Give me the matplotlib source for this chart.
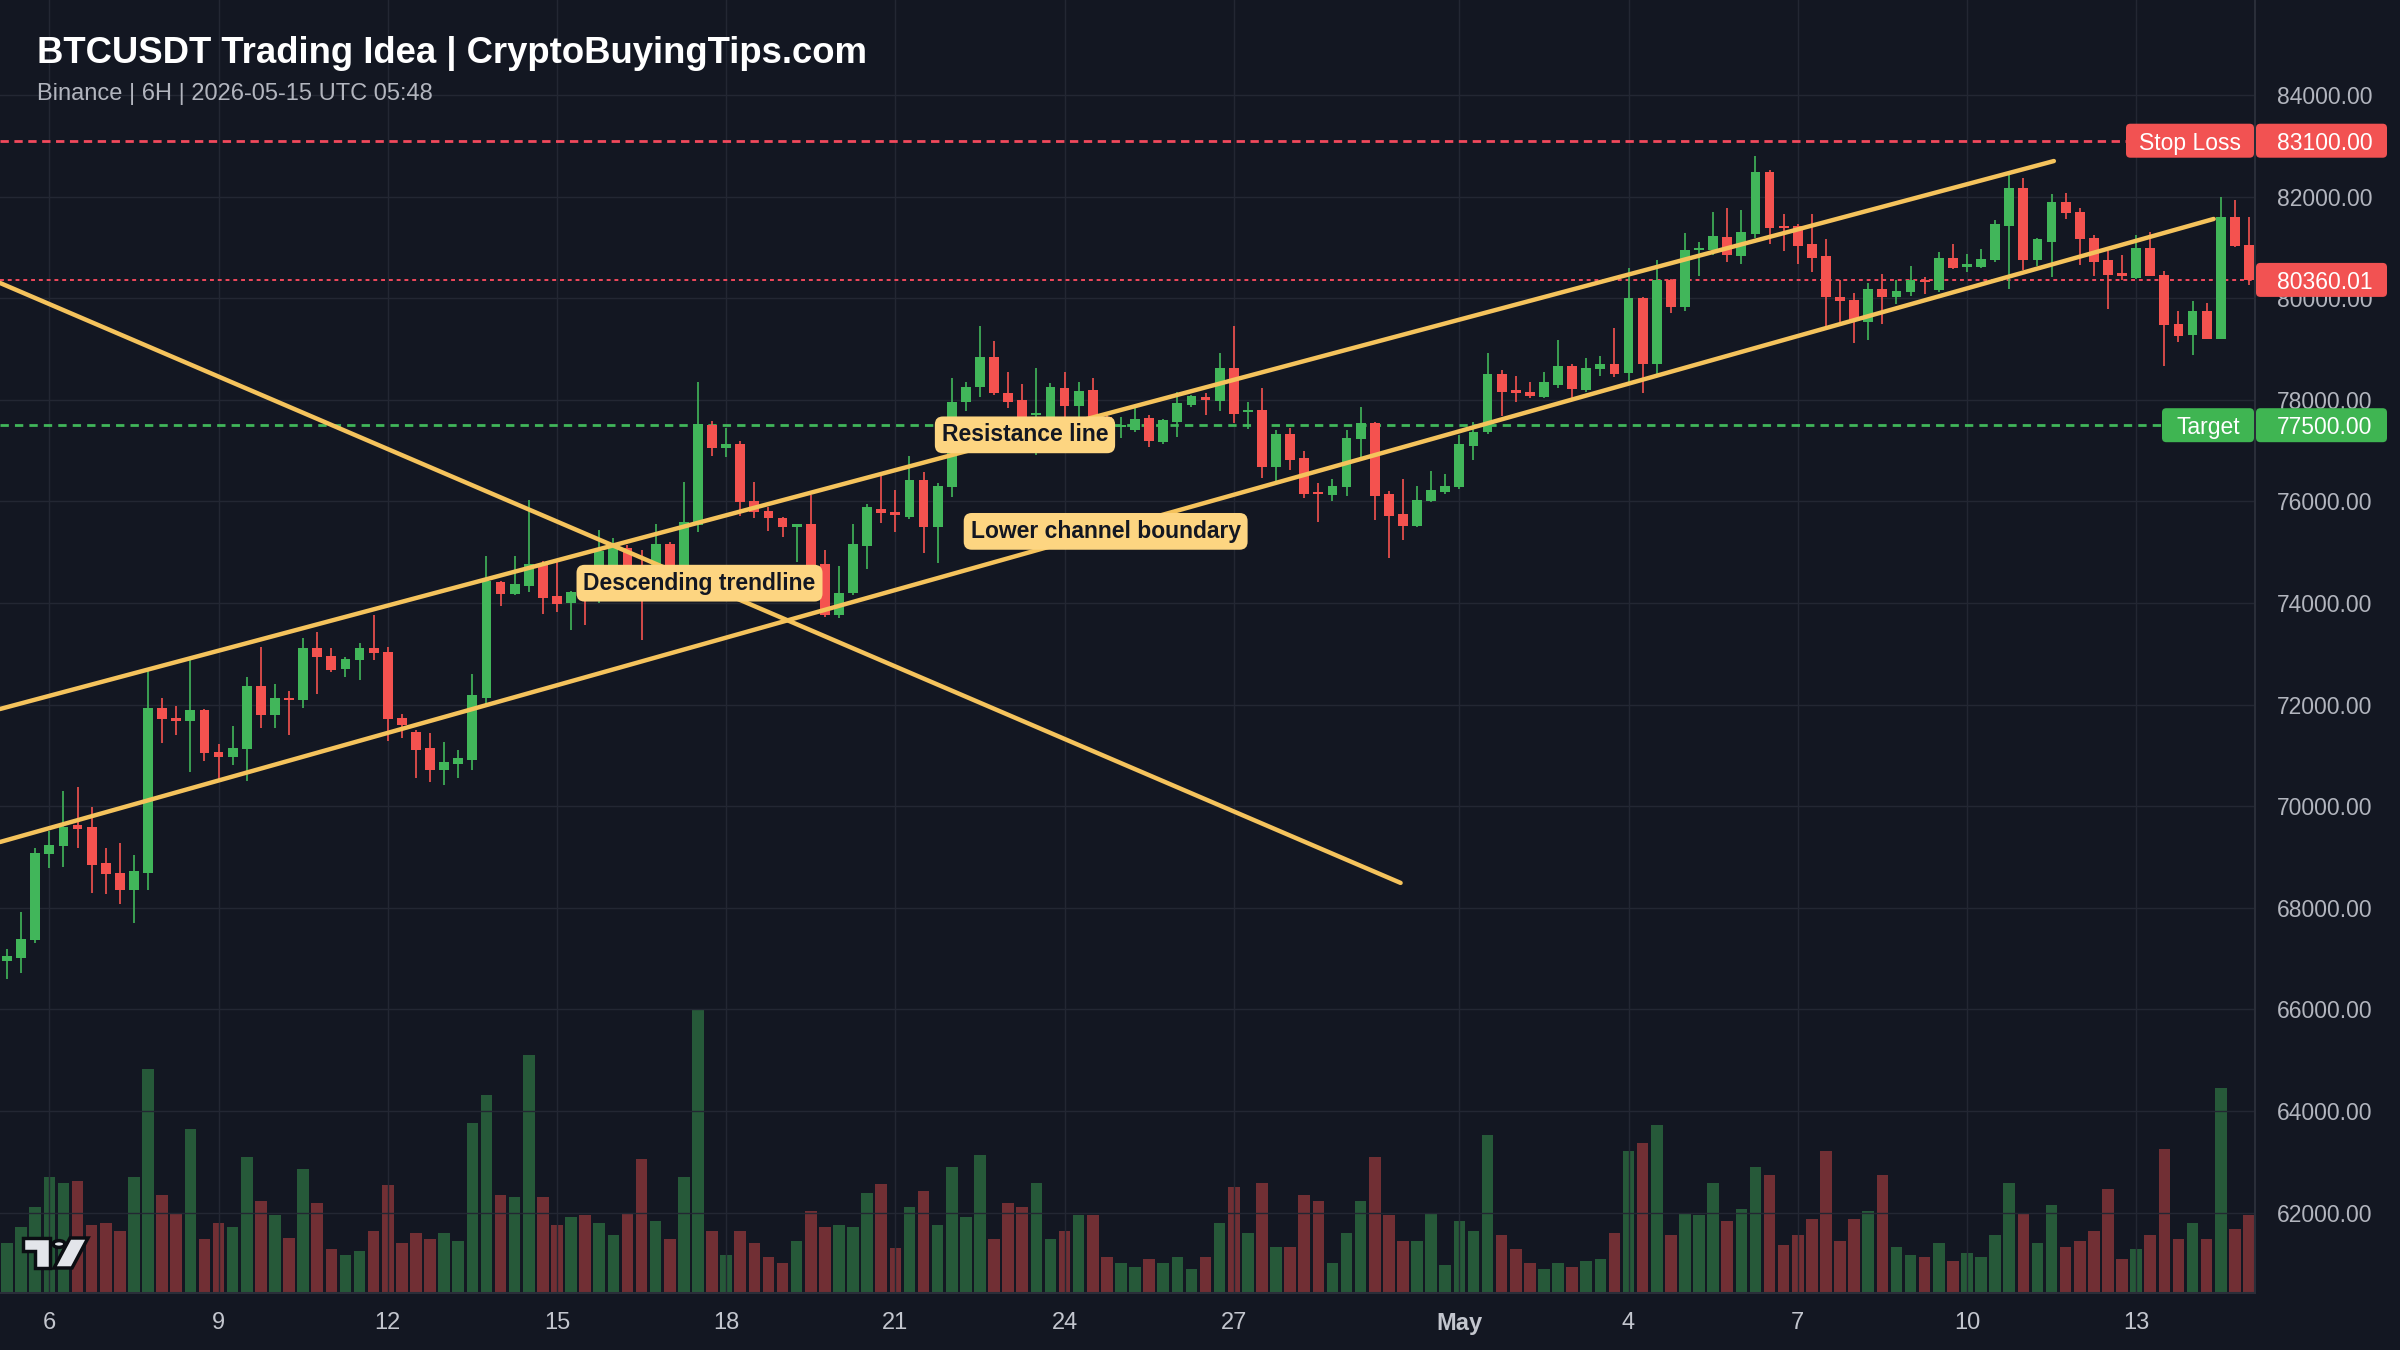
import matplotlib
matplotlib.use("Agg")
import matplotlib.pyplot as plt
import matplotlib.dates as mdates
from matplotlib.patches import FancyBboxPatch, Polygon, Circle
import pandas as pd

plt.rcParams['font.family'] = ['Liberation Sans', 'DejaVu Sans']

# ---- data: BTCUSDT 6H candles, 2026-04-05 06:00 .. 2026-05-15 00:00 UTC ----
times = pd.date_range("2026-04-05 06:00", "2026-05-15 00:00", freq="6h")

opens = [66950, 67020, 67360, 69060, 69210, 69630, 69590, 68890, 68690, 68350,
         68690, 71940, 71740, 71670, 71890, 71070, 70970, 71120, 72360, 71790,
         72130, 72100, 73110, 72950, 72700, 72880, 73110, 73030, 71740, 71470,
         71150, 70720, 70830, 70900, 72130, 74410, 74180, 74330, 74750, 74140,
         74000, 74600, 74300, 74750, 75080, 74700, 74450, 75160, 74650, 75540,
         77510, 77060, 77130, 76010, 75820, 75670, 75500, 75560, 74760, 73760,
         74190, 75120, 75860, 75790, 75700, 76420, 75490, 76280, 77950, 78250,
         78850, 78140, 78000, 77700, 77670, 78230, 77880, 78190, 77670, 77470,
         77410, 77650, 77160, 77570, 77900, 78060, 77980, 78620, 77750, 77800,
         76670, 77330, 76850, 76180, 76130, 76280, 77220, 77550, 76150, 75750,
         75520, 76000, 76190, 76280, 77090, 77370, 78510, 78190, 78160, 78060,
         78290, 78670, 78190, 78600, 78700, 78520, 80000, 78700, 80360, 79820,
         80950, 80950, 81210, 80830, 81260, 82490, 81420, 81420, 81070, 80830,
         80030, 79960, 79540, 80190, 80020, 80130, 80360, 80160, 80800, 80610,
         80620, 80750, 81420, 82160, 80750, 81110, 81900, 81700, 81190, 80750,
         80490, 80390, 80980, 80460, 79490, 79280, 79750, 79190, 81600, 81050]

highs = [67190, 67910, 69170, 69520, 70290, 70370, 69980, 69170, 69280, 69040,
         72670, 72130, 71970, 72870, 71920, 71230, 71580, 72550, 73140, 72400,
         72270, 73320, 73430, 73110, 72930, 73210, 73770, 73140, 71810, 71500,
         71450, 71260, 71100, 72600, 74930, 74440, 74930, 76030, 74820, 74800,
         74240, 74720, 75440, 75280, 75150, 75040, 75550, 75200, 76380, 78350,
         77590, 77440, 77190, 76380, 75880, 75700, 75560, 76130, 75040, 74730,
         75560, 75950, 76490, 76230, 76890, 76570, 76360, 78420, 78360, 79450,
         79150, 78550, 78310, 78620, 78330, 78550, 78360, 78420, 77720, 77670,
         77830, 77700, 77620, 78160, 78100, 78140, 78930, 79450, 77960, 78230,
         77410, 77440, 77000, 76370, 76450, 77410, 77850, 77560, 76210, 76450,
         76300, 76600, 76540, 77300, 77570, 78920, 78590, 78470, 78360, 78550,
         79180, 78700, 78820, 78860, 79410, 80590, 80020, 80750, 80370, 81290,
         81110, 81700, 81770, 81740, 82800, 82520, 81660, 81470, 81660, 81160,
         80360, 80110, 80290, 80480, 80360, 80630, 80420, 80900, 81070, 80870,
         80960, 81540, 82430, 82360, 81180, 82050, 82080, 81770, 81240, 80920,
         80850, 81240, 81310, 80540, 79750, 79950, 79910, 82000, 81930, 81600]

lows = [66590, 66710, 67310, 68780, 68810, 69170, 68300, 68270, 68080, 67710,
        68350, 71240, 71400, 70680, 70890, 70530, 70820, 70490, 71540, 71540,
        71400, 71940, 72200, 72650, 72550, 72490, 72880, 71280, 71350, 70550,
        70480, 70420, 70550, 70710, 72020, 73950, 74150, 74220, 73780, 73820,
        73460, 73560, 74000, 74600, 74300, 73280, 74060, 74400, 74500, 75400,
        76900, 76870, 75720, 75680, 75410, 75290, 74810, 74720, 73730, 73700,
        74150, 74660, 75580, 75400, 75650, 74980, 74780, 76080, 77770, 78050,
        78100, 77830, 77600, 76910, 77640, 77670, 77660, 77640, 77100, 77250,
        77370, 77080, 77130, 77260, 77850, 77700, 77770, 77540, 77420, 76470,
        76390, 76620, 76060, 75600, 76000, 76110, 76870, 75630, 74880, 75240,
        75500, 75990, 76150, 76250, 76820, 77330, 77680, 77960, 78030, 78030,
        78230, 78030, 78160, 78470, 78440, 78360, 78130, 78490, 79700, 79740,
        80440, 80850, 80720, 80670, 81180, 81070, 80920, 80670, 80520, 79450,
        79520, 79110, 79180, 79500, 79890, 80040, 80080, 80120, 80570, 80520,
        80600, 80720, 80190, 80560, 80630, 80410, 81550, 80650, 80440, 79780,
        80360, 80370, 80440, 78670, 79140, 78880, 79190, 79190, 81000, 80260]

closes = [67050, 67390, 69080, 69230, 69590, 69560, 68850, 68660, 68350, 68730,
          71940, 71710, 71670, 71890, 71040, 70970, 71150, 72360, 71790, 72130,
          72090, 73110, 72930, 72680, 72900, 73110, 73020, 71710, 71590, 71110,
          70710, 70870, 70940, 72180, 74430, 74180, 74370, 74770, 74100, 73980,
          74220, 74250, 75020, 75080, 74600, 74300, 75160, 74600, 75590, 77520,
          77060, 77130, 75990, 75800, 75680, 75500, 75550, 74730, 73760, 74200,
          75160, 75880, 75770, 75730, 76420, 75490, 76300, 77950, 78260, 78850,
          78130, 77960, 77640, 77730, 78250, 77880, 78180, 77670, 77350, 77500,
          77620, 77180, 77600, 77940, 78080, 78000, 78620, 77730, 77770, 76680,
          77330, 76820, 76150, 76140, 76300, 77240, 77550, 76110, 75710, 75520,
          76030, 76220, 76300, 77130, 77370, 78510, 78160, 78140, 78080, 78360,
          78670, 78210, 78620, 78700, 78510, 80000, 78700, 80360, 79820, 80950,
          80980, 81220, 80850, 81310, 82480, 81380, 81380, 81030, 80790, 80020,
          79950, 79570, 80190, 80020, 80150, 80350, 80310, 80800, 80590, 80670,
          80780, 81460, 82160, 80750, 81160, 81900, 81670, 81160, 80720, 80460,
          80440, 80980, 80440, 79470, 79260, 79750, 79200, 81600, 81030, 80360.01]

volume = [1500, 1980, 2580, 3480, 3300, 3360, 2040, 2100, 1860, 3480,
          6720, 2940, 2400, 4920, 1620, 2100, 1980, 4080, 2760, 2340,
          1650, 3720, 2700, 1320, 1140, 1260, 1860, 3240, 1500, 1800,
          1620, 1800, 1560, 5100, 5940, 2940, 2880, 7140, 2880, 2040,
          2280, 2340, 2100, 1740, 2400, 4020, 2160, 1620, 3480, 8520,
          1860, 1140, 1860, 1500, 1080, 900, 1560, 2460, 1980, 2040,
          1980, 3000, 3270, 1350, 2580, 3060, 2040, 3780, 2280, 4140,
          1620, 2700, 2580, 3300, 1620, 1860, 2340, 2340, 1080, 900,
          780, 1020, 900, 1080, 720, 1080, 2100, 3180, 1800, 3300,
          1380, 1380, 2940, 2760, 900, 1800, 2760, 4080, 2340, 1560,
          1560, 2400, 840, 2160, 1860, 4740, 1740, 1320, 900, 720,
          900, 780, 960, 1020, 1800, 4260, 4500, 5040, 1740, 2400,
          2340, 3300, 2160, 2520, 3780, 3540, 1440, 1740, 2220, 4260,
          1560, 2220, 2460, 3540, 1380, 1140, 1080, 1500, 960, 1200,
          1080, 1740, 3300, 2400, 1500, 2640, 1380, 1560, 1860, 3120,
          1020, 1320, 1740, 4320, 1620, 2100, 1620, 6150, 1920, 2340]

price_ticks = list(range(62000, 84001, 2000))
tick_dates = ["2026-04-06", "2026-04-09", "2026-04-12", "2026-04-15", "2026-04-18",
              "2026-04-21", "2026-04-24", "2026-04-27", "2026-05-01", "2026-05-04",
              "2026-05-07", "2026-05-10", "2026-05-13"]
tick_labels = ["6", "9", "12", "15", "18", "21", "24", "27", "May", "4", "7", "10", "13"]

stop_loss = 83100.00
target = 77500.00
last_price = 80360.01

# drawn lines: (start time, start price) -> (end time, end price)
desc_line = (["2026-04-05 03:00", "2026-04-29 23:00"], [80300, 68490])
upper_line = (["2026-04-05 03:00", "2026-05-11 13:00"], [71913, 82700])
lower_line = (["2026-04-05 03:00", "2026-05-14 09:00"], [69295, 81560])

notes = [("Descending trendline", "2026-04-17 12:40", 74390),
         ("Resistance line", "2026-04-23 07:10", 77310),
         ("Lower channel boundary", "2026-04-24 17:30", 75410)]

# ---- style ----
BG = '#131722'
GRID = '#232733'
TXT = '#b2b5be'
UP = '#41b65a'
DOWN = '#f4524f'
GOLD = '#f5c35c'
NOTE = '#fdd581'

W, H = 2400, 1350
fig = plt.figure(figsize=(24, 13.5), dpi=100, facecolor=BG)
rect = [0, 1 - 1293 / H, 2255 / W, 1293 / H]
ax_v = fig.add_axes(rect)
ax = fig.add_axes(rect, sharex=ax_v)
ax_v.set_facecolor(BG)
ax.patch.set_alpha(0)

x = mdates.date2num(times)
cols = [UP if c >= o else DOWN for o, c in zip(opens, closes)]
slot = 0.25  # 6 hours in days

# volume (background pane)
ax_v.bar(x, volume, width=slot * 0.82, color=cols, alpha=0.42, linewidth=0)
ax_v.set_ylim(0, max(volume) * 4.55)
ax_v.xaxis.set_visible(False)
ax_v.set_yticks([])
for s in ax_v.spines.values():
    s.set_visible(False)

# candles
bottoms = [min(o, c) for o, c in zip(opens, closes)]
heights = [max(abs(c - o), 40) for o, c in zip(opens, closes)]
ax.vlines(x, lows, highs, colors=cols, lw=1.2, zorder=3)
ax.bar(x, heights, bottom=bottoms, width=slot * 0.7, color=cols, linewidth=0, zorder=4)

# horizontal levels
ax.axhline(stop_loss, color='#f2495c', lw=2, dashes=(3, 2), zorder=2)
ax.axhline(target, color=UP, lw=2, dashes=(3, 2.2), zorder=2)
ax.axhline(last_price, color='#f2495c', lw=1.4, dashes=(2, 2), zorder=2)

# trend lines
for tl, pl in (desc_line, upper_line, lower_line):
    ax.plot(mdates.date2num(pd.to_datetime(tl)), pl, color=GOLD, lw=3.2,
            solid_capstyle='round', zorder=5)

for txt, t, p in notes:
    ax.text(mdates.date2num(pd.Timestamp(t)), p, txt, ha='center', va='center',
            fontsize=16.5, fontweight='bold', color='#131722', zorder=7,
            bbox=dict(boxstyle='round,pad=0.3,rounding_size=0.35', fc=NOTE, ec='none'))

# axes
ax.set_xlim(x[0] - slot * 0.5, x[-1] + slot * 0.43)
ax.set_ylim(60417, 85870)
ax.set_xticks(mdates.date2num(pd.to_datetime(tick_dates)))
ax.set_xticklabels(tick_labels)
ax.get_xticklabels()[tick_labels.index("May")].set_fontweight('bold')
ax.yaxis.tick_right()
ax.set_yticks(price_ticks)
ax.set_yticklabels([f"{p:.2f}" for p in price_ticks])
ax.tick_params(axis='y', length=0, pad=15.8, labelsize=16.5, labelcolor=TXT)
ax.tick_params(axis='x', length=0, pad=14, labelsize=17, labelcolor='#c3c6ce')
ax.grid(True, color=GRID, lw=1)
ax.set_axisbelow(True)
for side in ('top', 'left'):
    ax.spines[side].set_visible(False)
for side in ('right', 'bottom'):
    ax.spines[side].set_color('#2a2e39')
    ax.spines[side].set_linewidth(1.5)


# price tags on the right scale
def tag_box(x0, x1, price, text, color, ha='center'):
    yd = ax.transData.transform((0, price))[1]
    box = FancyBboxPatch((x0 / W, (yd - 17) / H), (x1 - x0) / W, 34 / H,
                         boxstyle='round,pad=0,rounding_size=0.0018',
                         mutation_aspect=W / H, transform=fig.transFigure,
                         fc=color, ec='none', zorder=5)
    fig.add_artist(box)
    tx = (x0 + x1) / 2 if ha == 'center' else 2277
    fig.text(tx / W, yd / H, text, ha=ha, va='center_baseline', fontsize=16.5,
             color='white', zorder=6)


tag_box(2126, 2254, stop_loss, "Stop Loss", '#f25252')
tag_box(2256, 2387, stop_loss, f"{stop_loss:.2f}", '#f25252', ha='left')
tag_box(2256, 2387, last_price, f"{last_price:.2f}", '#f25252', ha='left')
tag_box(2162, 2254, target, "Target", '#3fb552')
tag_box(2256, 2387, target, f"{target:.2f}", '#3fb552', ha='left')

# header
fig.text(37 / W, 1 - 63 / H, "BTCUSDT Trading Idea | CryptoBuyingTips.com",
         fontsize=26.3, fontweight='bold', color='white', va='baseline')
fig.text(37 / W, 1 - 100 / H, "Binance | 6H | 2026-05-15 UTC 05:48",
         fontsize=17, color=TXT, va='baseline')


# small TradingView-style mark, bottom left
def px(xp, yp):
    return (xp / W, 1 - yp / H)


logo_kw = dict(transform=fig.transFigure, fc='#e3e5ea', ec='#0b0d12', lw=2.5, zorder=8)
fig.add_artist(Polygon([px(23, 1238), px(50, 1238), px(50, 1268), px(35, 1268),
                        px(35, 1251), px(23, 1251)], **logo_kw))
fig.add_artist(Polygon([px(70, 1238), px(88, 1238), px(72, 1268), px(54, 1268)], **logo_kw))
fig.add_artist(Circle(px(59, 1244), 6 / W, **logo_kw))

fig.savefig("out.png", dpi=100, facecolor=BG)
